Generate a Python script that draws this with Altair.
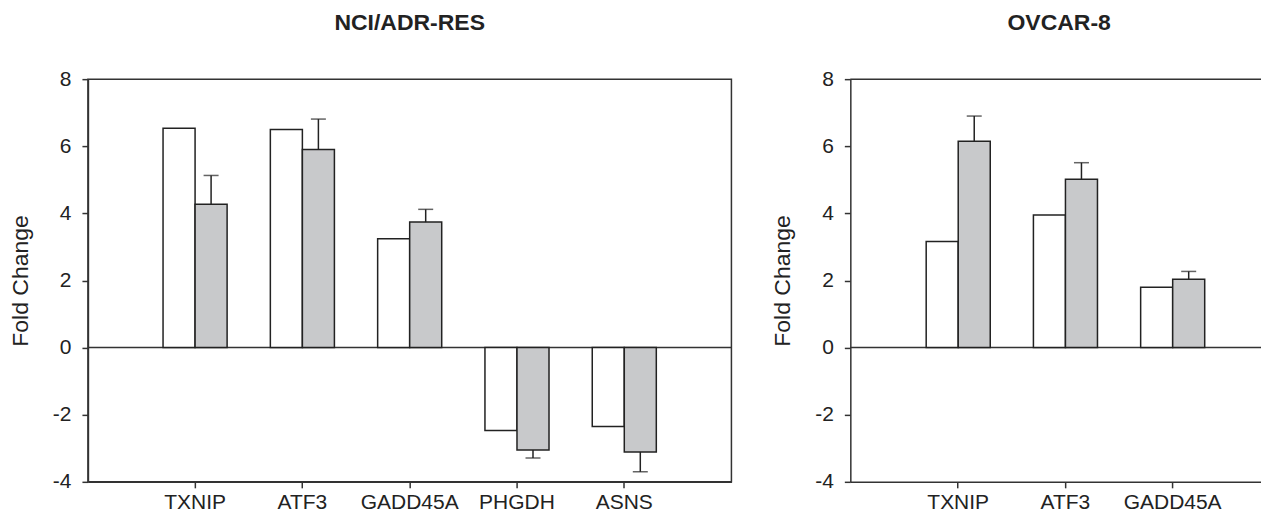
import altair as alt
import pandas as pd

series = ["Array", "qRT-PCR"]

genes_left = ["TXNIP", "ATF3", "GADD45A", "PHGDH", "ASNS"]
white_left = [6.54, 6.50, 3.24, -2.47, -2.35]
gray_left = [4.27, 5.90, 3.74, -3.05, -3.11]
err_left = [0.86, 0.91, 0.38, 0.24, 0.59]

genes_right = ["TXNIP", "ATF3", "GADD45A"]
white_right = [3.16, 3.95, 1.80]
gray_right = [6.15, 5.02, 2.04]
err_right = [0.75, 0.49, 0.23]

y_ticks = [-4, -2, 0, 2, 4, 6, 8]
y_top = 8

FONT = "Liberation Sans"
INK = "#222222"
LINE = "#333333"
GRAY = "#c8c9cb"


def panel(genes, white, gray, err, title, width, pad_outer, align, full_frame):
    rows = []
    for g, w, v, e in zip(genes, white, gray, err):
        rows.append({"gene": g, "series": series[0], "value": w, "err": None})
        end = v + e if v >= 0 else v - e
        rows.append({"gene": g, "series": series[1], "value": v, "err": e, "end": end})
    df = pd.DataFrame(rows)
    df_err = df[df["series"] == series[1]].copy()

    x = alt.X(
        "gene:N",
        sort=genes,
        scale=alt.Scale(domain=genes, paddingInner=0.403, paddingOuter=pad_outer, align=align),
        axis=alt.Axis(
            title=None, labelAngle=0, tickSize=6, labelPadding=4, grid=False,
            labelFontSize=21, labelFont=FONT, labelColor=INK,
            domainColor=LINE, tickColor=LINE, domainWidth=1.5, tickWidth=1.5,
        ),
    )
    xo = alt.XOffset("series:N", scale=alt.Scale(domain=series, paddingInner=0, paddingOuter=0))
    y = alt.Y(
        "value:Q",
        scale=alt.Scale(domain=[-4, 8], nice=False, zero=False),
        axis=alt.Axis(
            values=y_ticks, title="Fold Change", tickSize=6, labelPadding=11, grid=False,
            labelExpr="'' + datum.value",
            labelFontSize=21, labelFont=FONT, labelColor=INK,
            titleFontSize=23, titleFont=FONT, titleFontWeight="normal", titleColor=INK,
            titlePadding=20, domainColor=LINE, tickColor=LINE, domainWidth=1.5, tickWidth=1.5,
        ),
    )

    zero = alt.Chart(pd.DataFrame({"z": [0]})).mark_rule(color=LINE, strokeWidth=1.5).encode(
        y=alt.Y("z:Q")
    )
    bars = alt.Chart(df).mark_bar(stroke=INK, strokeWidth=1.5).encode(
        x=x, xOffset=xo, y=y,
        fill=alt.Fill("series:N", scale=alt.Scale(domain=series, range=["#ffffff", GRAY]), legend=None),
    )
    stem = alt.Chart(df_err).mark_rule(color=INK, strokeWidth=1.5).encode(
        x=x, xOffset=xo, y="value:Q", y2="end:Q"
    )
    caps = alt.Chart(df_err).mark_tick(color=INK, size=15, thickness=1.5).encode(
        x=x, xOffset=xo, y="end:Q"
    )
    layers = [zero, bars, stem, caps]
    if full_frame:
        view = alt.ViewBackground(stroke=LINE, strokeWidth=1.5)
    else:
        top = alt.Chart(pd.DataFrame({"t": [y_top]})).mark_rule(color=LINE, strokeWidth=1.5).encode(
            y=alt.Y("t:Q")
        )
        layers.append(top)
        view = alt.ViewBackground(stroke=None)
    return alt.layer(*layers).properties(
        width=width, height=403, view=view,
        title=alt.Title(title, fontSize=23, fontWeight="bold", font=FONT, color=INK,
                        anchor="middle", frame="group", offset=33),
    )


left = panel(genes_left, white_left, gray_left, err_left, "NCI/ADR-RES", 644, 0.70, 0.5, True)
right = panel(genes_right, white_right, gray_right, err_right, "OVCAR-8", 418, 0.649, 0.545, False)

chart = alt.hconcat(left, right, spacing=38).properties(
    padding={"left": 0, "top": 3, "right": -8, "bottom": 0}
).configure(background="white")

chart.save("out.html", embed_options={"renderer": "svg", "actions": False})
